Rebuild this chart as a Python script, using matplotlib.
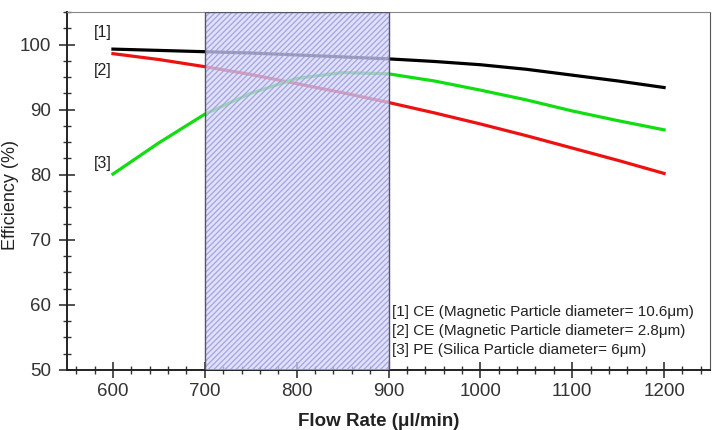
import numpy as np
import matplotlib
matplotlib.use('Agg')
import matplotlib.pyplot as plt
from matplotlib.ticker import MultipleLocator

plt.rcParams['font.family'] = ['Liberation Sans', 'DejaVu Sans']
plt.rcParams['hatch.linewidth'] = 1.0

# Flow rate (ul/min)
flow = [600, 650, 700, 750, 800, 850, 900, 950, 1000, 1050, 1100, 1150, 1200]

# [1] CE, magnetic particle 10.6 um
eff_ce_106 = [99.3, 99.1, 98.9, 98.7, 98.4, 98.1, 97.8, 97.4, 96.9, 96.2, 95.3, 94.4, 93.4]
# [2] CE, magnetic particle 2.8 um
eff_ce_28 = [98.6, 97.7, 96.6, 95.4, 94.0, 92.6, 91.1, 89.5, 87.8, 86.0, 84.1, 82.2, 80.2]
# [3] PE, silica particle 6 um
eff_pe_6 = [80.1, 84.9, 89.3, 92.5, 94.8, 95.7, 95.5, 94.4, 93.0, 91.5, 89.8, 88.3, 86.9]

shade_lo, shade_hi = 700, 900

legend_lines = ['[1] CE (Magnetic Particle diameter= 10.6\u03bcm)',
                '[2] CE (Magnetic Particle diameter= 2.8\u03bcm)',
                '[3] PE (Silica Particle diameter= 6\u03bcm)']

fig = plt.figure(figsize=(7.16, 4.30), dpi=100)
ax = fig.add_axes([67/716, 60/430, 643/716, 358/430])

ax.plot(flow, eff_ce_106, color='black', linewidth=2.3, zorder=2)
ax.plot(flow, eff_ce_28, color='#ee1111', linewidth=2.3, zorder=2)
ax.plot(flow, eff_pe_6, color='#11dd11', linewidth=2.3, zorder=2)

# hatched operating window, drawn over the curves
ax.axvspan(shade_lo, shade_hi, facecolor=(0.84, 0.84, 0.97, 0.72),
           edgecolor=(0.62, 0.62, 0.88, 0.85), hatch='//////', linewidth=0, zorder=3)
ax.axvspan(shade_lo, shade_hi, facecolor='none', edgecolor='#555566',
           linewidth=1.0, zorder=4)

ax.text(589, 101.8, '[1]', fontsize=11.5, color='#222222', ha='center', va='center')
ax.text(589, 96.0, '[2]', fontsize=11.5, color='#222222', ha='center', va='center')
ax.text(589, 81.7, '[3]', fontsize=11.5, color='#222222', ha='center', va='center')

for i, s in enumerate(legend_lines):
    ax.text(0.505, 0.162 - i*0.053, s, transform=ax.transAxes, fontsize=11,
            color='#222222', ha='left', va='center', zorder=5)

ax.set_xlim(550, 1250)
ax.set_ylim(50, 105)
ax.xaxis.set_major_locator(MultipleLocator(100))
ax.xaxis.set_minor_locator(MultipleLocator(20))
ax.yaxis.set_major_locator(MultipleLocator(10))
ax.yaxis.set_minor_locator(MultipleLocator(2.5))

ax.spines['left'].set_color('#222222')
ax.spines['bottom'].set_color('#222222')
ax.spines['left'].set_linewidth(1.4)
ax.spines['bottom'].set_linewidth(1.4)
ax.spines['top'].set_color('#888888')
ax.spines['right'].set_color('#555555')

ax.tick_params(which='major', direction='inout', length=11, width=1.2,
               labelsize=13.5, labelcolor='#333333', color='#333333')
ax.tick_params(which='minor', direction='inout', length=6, width=1.0, color='#333333')
ax.tick_params(axis='y', which='major', pad=6)

ax.set_xlabel('Flow Rate (\u03bcl/min)', fontsize=13.5, weight='bold', color='#222222')
ax.xaxis.set_label_coords(0.485, -0.12)
ax.set_ylabel('Efficiency (%)', fontsize=13, color='#222222')
ax.yaxis.set_label_coords(-0.075, 0.49)

fig.savefig('out.png', dpi=100)
